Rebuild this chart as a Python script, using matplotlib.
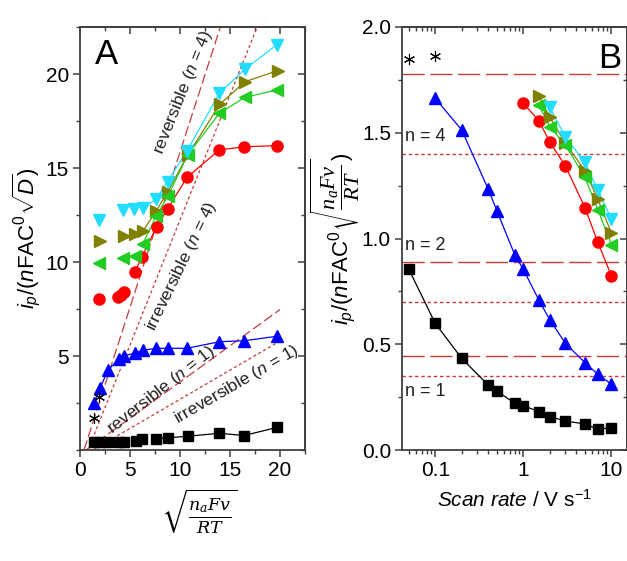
import matplotlib
matplotlib.use('Agg')
import matplotlib.pyplot as plt
from matplotlib.ticker import MultipleLocator, LogLocator, NullFormatter, FixedLocator, FixedFormatter
import numpy as np

plt.rcParams['font.family'] = ['Liberation Sans', 'DejaVu Sans']
plt.rcParams['mathtext.fontset'] = 'custom'
plt.rcParams['mathtext.rm'] = 'Liberation Sans'
plt.rcParams['mathtext.it'] = 'Liberation Sans:italic'
plt.rcParams['mathtext.bf'] = 'Liberation Sans:bold'
plt.rcParams['mathtext.cal'] = 'Liberation Serif:italic'
plt.rcParams['mathtext.sf'] = 'Liberation Serif'

# ---------------- Panel A data ----------------
a_black_x = [1.4, 2.0, 2.75, 3.93, 4.4, 5.55, 6.2, 7.6, 8.8, 10.75, 13.93, 16.4, 19.7]
a_black_y = [0.44, 0.44, 0.45, 0.44, 0.44, 0.46, 0.57, 0.61, 0.65, 0.73, 0.89, 0.77, 1.2]
a_blue_x = [1.4, 2.0, 2.8, 3.9, 4.4, 5.5, 6.27, 7.6, 8.75, 10.7, 13.95, 16.4, 19.7]
a_blue_y = [2.52, 3.28, 4.26, 4.82, 5.0, 5.16, 5.3, 5.41, 5.41, 5.41, 5.76, 5.81, 6.05]
a_red_x = [1.93, 3.83, 4.07, 4.4, 5.5, 6.17, 7.67, 8.75, 10.7, 13.93, 16.43, 19.67]
a_red_y = [8.02, 8.13, 8.27, 8.4, 9.47, 10.25, 11.88, 12.82, 14.5, 15.96, 16.13, 16.19]
a_olive_x = [1.95, 4.4, 5.5, 6.33, 7.63, 8.8, 10.75, 14.0, 16.5, 19.75]
a_olive_y = [11.1, 11.4, 11.5, 11.67, 12.73, 13.75, 15.67, 18.4, 19.59, 20.18]
a_green_x = [1.85, 4.3, 5.45, 6.27, 7.6, 8.8, 10.77, 13.93, 16.5, 19.67]
a_green_y = [9.96, 10.2, 10.3, 10.96, 12.43, 13.51, 15.69, 17.91, 18.76, 19.15]
a_cyan_x = [1.93, 4.33, 5.42, 6.3, 7.6, 8.75, 10.72, 13.93, 16.47, 19.67]
a_cyan_y = [12.23, 12.77, 12.8, 12.85, 13.34, 14.27, 15.93, 18.97, 20.25, 21.55]
a_star_x = [1.4, 1.93]
a_star_y = [1.68, 2.8]

# reference lines in A: slope, x-intercept, x end
ref_names = ['reversible (n = 4)', 'irreversible (n = 4)', 'reversible (n = 1)', 'irreversible (n = 1)']
ref_slope = [1.65, 1.33, 0.385, 0.31]
ref_x0 = [0.4, 0.8, 0.6, 1.3]
ref_xend = [22.5, 22.5, 20.0, 20.0]
ref_rev = [True, False, True, False]

# ---------------- Panel B data ----------------
b_black_v = [0.05, 0.1, 0.2, 0.4, 0.5, 0.8, 1, 1.5, 2, 3, 5, 7, 10]
b_black_y = [0.856, 0.599, 0.433, 0.307, 0.279, 0.221, 0.21, 0.181, 0.158, 0.137, 0.123, 0.098, 0.106]
b_blue_v = [0.1, 0.2, 0.4, 0.5, 0.8, 1, 1.5, 2, 3, 5, 7, 10]
b_blue_y = [1.663, 1.513, 1.233, 1.132, 0.922, 0.854, 0.709, 0.615, 0.504, 0.413, 0.358, 0.311]
b_red_v = [1, 1.5, 2, 3, 5, 7, 10]
b_red_y = [1.639, 1.557, 1.455, 1.343, 1.146, 0.982, 0.823]
b_olive_v = [1.5, 2, 3, 5, 7, 10]
b_olive_y = [1.674, 1.573, 1.450, 1.321, 1.185, 1.025]
b_green_v = [1.5, 2, 3, 5, 7, 10]
b_green_y = [1.63, 1.529, 1.442, 1.289, 1.137, 0.971]
b_cyan_v = [2, 3, 5, 7, 10]
b_cyan_y = [1.62, 1.48, 1.36, 1.228, 1.093]
b_star_v = [0.05, 0.1]
b_star_y = [1.847, 1.863]
b_rev_levels = [1.78, 0.89, 0.446]
b_irr_levels = [1.40, 0.70, 0.35]
b_level_labels = ['n = 4', 'n = 2', 'n = 1']
b_label_y = [1.48, 0.965, 0.276]

C_BLACK = 'black'
C_BLUE = '#0000FF'
C_RED = '#FF0000'
C_OLIVE = '#808000'
C_GREEN = '#22CC22'
C_CYAN = '#22DDFF'
C_REF = '#C83C3C'
SPINE = '#404040'

fig = plt.figure(figsize=(6.27, 5.61), dpi=100)
W, H = 627, 561
axA = fig.add_axes([80 / W, 111 / H, 225 / W, 423 / H])
axB = fig.add_axes([402 / W, 111 / H, 225 / W, 423 / H])

# ---- Panel A ----
for s, x0, xe, rev in zip(ref_slope, ref_x0, ref_xend, ref_rev):
    xs = np.array([x0, xe])
    ys = s * (xs - x0)
    axA.plot(xs, ys, color=C_REF, lw=0.9,
             dashes=(8, 3) if rev else (2.5, 2), zorder=1)

series_A = [
    (a_black_x, a_black_y, C_BLACK, 's', 7, 7),
    (a_blue_x, a_blue_y, C_BLUE, '^', 9, 0),
    (a_red_x, a_red_y, C_RED, 'o', 8, 4),
    (a_olive_x, a_olive_y, C_OLIVE, '>', 9, 3),
    (a_green_x, a_green_y, C_GREEN, '<', 9, 3),
    (a_cyan_x, a_cyan_y, C_CYAN, 'v', 9, 3),
]
for xs, ys, c, m, ms, start in series_A:
    axA.plot(xs[start:], ys[start:], color=c, lw=0.9, zorder=2)
    axA.plot(xs, ys, ls='none', marker=m, ms=ms, color=c, mec=c, zorder=3)
axA.plot(a_star_x, a_star_y, ls='none', marker=(6, 2, 0), ms=8, color='black',
         mew=0.8, zorder=3)

axA.set_xlim(0, 22.5)
axA.set_ylim(0, 22.5)
axA.xaxis.set_major_locator(FixedLocator([0, 5, 10, 15, 20]))
axA.xaxis.set_minor_locator(MultipleLocator(2.5))
axA.yaxis.set_major_locator(FixedLocator([5, 10, 15, 20]))
axA.yaxis.set_minor_locator(MultipleLocator(2.5))

txt_kw = dict(fontsize=12.5, color='#222222', ha='center', va='center',
              rotation_mode='anchor')
axA.text(10.3, 19.0, r'reversible ($n$ = 4)', rotation=68, **txt_kw)
axA.text(10.15, 9.76, r'irreversible ($n$ = 4)', rotation=64, **txt_kw)
axA.text(8.1, 3.2, r'reversible ($n$ = 1)', rotation=38, **txt_kw)
axA.text(15.67, 3.5, r'irreversible ($n$ = 1)', rotation=30, **txt_kw)
axA.text(0.065, 0.975, 'A', transform=axA.transAxes, fontsize=25,
         ha='left', va='top')

axA.set_ylabel(r'$i_p/(n\mathrm{FAC}^0\sqrt{D})$', fontsize=16, labelpad=2)
axA.text(0.53, -0.09, r'$\sqrt{\frac{n_aFv}{RT}}$', transform=axA.transAxes,
         fontsize=18, ha='center', va='top', math_fontfamily='dejavuserif')

# ---- Panel B ----
for lv in b_rev_levels:
    axB.axhline(lv, color=C_REF, lw=1.0, dashes=(16, 4), zorder=1)
for lv in b_irr_levels:
    axB.axhline(lv, color=C_REF, lw=1.0, dashes=(2.5, 2), zorder=1)

series_B = [
    (b_black_v, b_black_y, C_BLACK, 's', 7),
    (b_blue_v, b_blue_y, C_BLUE, '^', 9),
    (b_red_v, b_red_y, C_RED, 'o', 8),
    (b_olive_v, b_olive_y, C_OLIVE, '>', 9),
    (b_green_v, b_green_y, C_GREEN, '<', 9),
    (b_cyan_v, b_cyan_y, C_CYAN, 'v', 9),
]
for xs, ys, c, m, ms in series_B:
    axB.plot(xs, ys, color=c, lw=0.9, zorder=2)
    axB.plot(xs, ys, ls='none', marker=m, ms=ms, color=c, mec=c, zorder=3)
axB.plot(b_star_v, b_star_y, ls='none', marker=(6, 2, 0), ms=8, color='black',
         mew=0.8, zorder=3)

for lab, yy in zip(b_level_labels, b_label_y):
    axB.text(0.045, yy, lab, fontsize=13, ha='left', va='center', color='#222222')

axB.set_xscale('log')
axB.set_xlim(0.042, 15)
axB.set_ylim(0, 2.0)
axB.xaxis.set_major_locator(FixedLocator([0.1, 1, 10]))
axB.xaxis.set_major_formatter(FixedFormatter(['0.1', '1', '10']))
axB.xaxis.set_minor_locator(LogLocator(base=10, subs=np.arange(2, 10)))
axB.xaxis.set_minor_formatter(NullFormatter())
axB.yaxis.set_major_locator(MultipleLocator(0.5))
axB.yaxis.set_minor_locator(MultipleLocator(0.25))
axB.yaxis.set_major_formatter(matplotlib.ticker.FormatStrFormatter('%.1f'))
axB.text(0.975, 0.965, 'B', transform=axB.transAxes, fontsize=25,
         ha='right', va='top')

axB.set_ylabel(r'$i_p/(n\mathrm{FAC}^0\sqrt{\dfrac{\mathcal{n_aFv}}{\mathcal{RT}}})$',
               fontsize=16, labelpad=0)
axB.set_xlabel(r'$\mathit{Scan\ rate}$ / V s$^{-1}$', fontsize=15, labelpad=6)

# ---- styling ----
for ax in (axA, axB):
    for sp in ax.spines.values():
        sp.set_color(SPINE)
        sp.set_linewidth(1.3)
    ax.tick_params(which='major', direction='out', length=5, width=1.1,
                   color=SPINE, labelsize=15, pad=3)
    ax.tick_params(which='minor', direction='out', length=3, width=1.0,
                   color=SPINE)
    top = ax.secondary_xaxis('top')
    right = ax.secondary_yaxis('right')
    for sec in (top, right):
        for sp in sec.spines.values():
            sp.set_color(SPINE)
            sp.set_linewidth(1.3)
        sec.tick_params(which='major', direction='in', length=5, width=1.1,
                        color=SPINE)
        sec.tick_params(which='minor', direction='in', length=3, width=1.0,
                        color=SPINE)
    top.xaxis.set_major_locator(ax.xaxis.get_major_locator())
    top.xaxis.set_minor_locator(ax.xaxis.get_minor_locator())
    top.xaxis.set_major_formatter(NullFormatter())
    top.xaxis.set_minor_formatter(NullFormatter())
    right.yaxis.set_major_locator(ax.yaxis.get_major_locator())
    right.yaxis.set_minor_locator(ax.yaxis.get_minor_locator())
    right.yaxis.set_major_formatter(NullFormatter())
    right.yaxis.set_minor_formatter(NullFormatter())

fig.savefig('out.png', dpi=100)
